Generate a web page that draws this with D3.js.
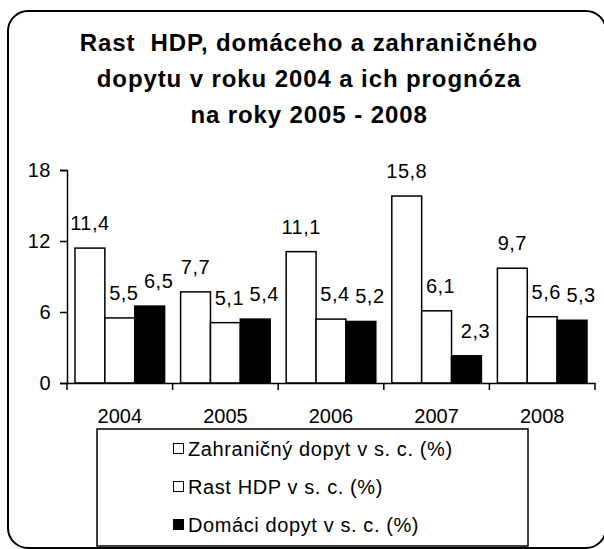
<!DOCTYPE html>
<html>
<head>
<meta charset="utf-8">
<script src="https://cdn.jsdelivr.net/npm/d3@7"></script>
<style>
  body { margin: 0; background: #fff; }
  svg { display: block; font-family: "Liberation Sans", Arial, sans-serif; }
</style>
</head>
<body>
<svg id="chart" width="604" height="549"></svg>
<script>
const years = ['2004', '2005', '2006', '2007', '2008']
const zahranicny = [11.4, 7.7, 11.1, 15.8, 9.7]
const rastHdp = [5.5, 5.1, 5.4, 6.1, 5.6]
const domaci = [6.5, 5.4, 5.2, 2.3, 5.3]
const yTicks = [0, 6, 12, 18]
const titleLines = ['Rast  HDP, domáceho a zahraničného', 'dopytu v roku 2004 a ich prognóza', 'na roky 2005 - 2008']

const series = [
  { name: 'Zahraničný dopyt v s. c. (%)', values: zahranicny, fill: '#fff', dx: 0 },
  { name: 'Rast HDP v s. c. (%)', values: rastHdp, fill: '#fff', dx: 4 },
  { name: 'Domáci dopyt v s. c. (%)', values: domaci, fill: '#000', dx: 9 }
]

const svg = d3.select('#chart')

// outer rounded frame (right edge runs off the picture)
svg.append('rect')
  .attr('x', 8).attr('y', 11)
  .attr('width', 598).attr('height', 537)
  .attr('rx', 20)
  .attr('fill', 'none')
  .attr('stroke', '#000')
  .attr('stroke-width', 2)

// title
svg.append('g').selectAll('text')
  .data(titleLines)
  .enter().append('text')
  .attr('x', 309)
  .attr('y', (d, i) => 51 + i * 36)
  .attr('text-anchor', 'middle')
  .style('font-size', '24px')
  .style('font-weight', 'bold')
  .style('letter-spacing', '0.9px')
  .style('white-space', 'pre')
  .text(d => d)

const x = d3.scaleBand().domain(years).range([67, 595])
const x1 = d3.scaleBand().domain(d3.range(series.length)).range([8, x.bandwidth() - 8])
const y = d3.scaleLinear().domain([0, 18]).range([383, 170])

// y axis
const yAxis = svg.append('g')
  .attr('transform', 'translate(67,0)')
  .call(d3.axisLeft(y).tickValues(yTicks).tickSize(7).tickPadding(9).tickFormat(d3.format('d')))
yAxis.select('.domain').attr('stroke-width', 1.5)
yAxis.selectAll('.tick line').attr('stroke-width', 1.5)
yAxis.selectAll('text').style('font-size', '20px').style('letter-spacing', '0.5px').attr('fill', '#000')

// bars
const groups = svg.append('g').selectAll('g')
  .data(years)
  .enter().append('g')
  .attr('transform', d => `translate(${x(d)},0)`)

groups.selectAll('rect')
  .data((d, i) => series.map((s, k) => ({ k, v: s.values[i], s })))
  .enter().append('rect')
  .attr('x', d => x1(d.k))
  .attr('y', d => y(d.v))
  .attr('width', x1.bandwidth())
  .attr('height', d => y(0) - y(d.v))
  .attr('fill', d => d.s.fill)
  .attr('stroke', '#000')
  .attr('stroke-width', 1.5)

groups.selectAll('text')
  .data((d, i) => series.map((s, k) => ({ k, v: s.values[i], s })))
  .enter().append('text')
  .attr('x', d => x1(d.k) + x1.bandwidth() / 2 + d.s.dx)
  .attr('y', d => y(d.v) - 18)
  .attr('text-anchor', 'middle')
  .style('font-size', '20px')
  .style('letter-spacing', '0.5px')
  .text(d => String(d.v).replace('.', ','))

// x axis
const xAxis = svg.append('g')
  .attr('transform', 'translate(0,383)')
  .call(d3.axisBottom(x).tickSize(0).tickPadding(0))
xAxis.select('.domain').attr('stroke-width', 1.5)
xAxis.selectAll('text')
  .attr('y', 40)
  .attr('dy', 0)
  .style('font-size', '20px')
  .attr('fill', '#000')
// ticks between categories
xAxis.selectAll('.sep')
  .data(years.concat(['end']))
  .enter().append('line')
  .attr('class', 'sep')
  .attr('x1', (d, i) => 67 + i * x.bandwidth())
  .attr('x2', (d, i) => 67 + i * x.bandwidth())
  .attr('y1', 0).attr('y2', 7)
  .attr('stroke', '#000')
  .attr('stroke-width', 1.5)

// legend
const legend = svg.append('g')
legend.append('rect')
  .attr('x', 97).attr('y', 429)
  .attr('width', 431).attr('height', 117)
  .attr('fill', '#fff')
  .attr('stroke', '#000')
  .attr('stroke-width', 1.5)

const item = legend.selectAll('g.item')
  .data(series)
  .enter().append('g')
  .attr('class', 'item')
  .attr('transform', (d, i) => `translate(173,${456 + i * 38})`)
item.append('rect')
  .attr('x', 0.5).attr('y', -12.5)
  .attr('width', 10).attr('height', 10)
  .attr('fill', d => d.fill)
  .attr('stroke', '#000')
  .attr('stroke-width', 1)
item.append('text')
  .attr('x', 15)
  .attr('y', 0)
  .style('font-size', '20px')
  .style('letter-spacing', '0.6px')
  .text(d => d.name)
</script>
</body>
</html>
